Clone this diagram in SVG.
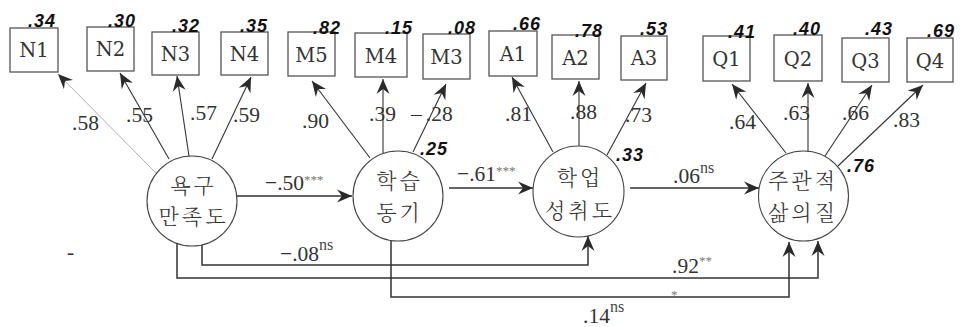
<svg xmlns="http://www.w3.org/2000/svg" width="963" height="327" viewBox="0 0 963 327">
  <defs>
    <marker id="ah" markerUnits="userSpaceOnUse" viewBox="-15 -7 16 14" refX="0" refY="0" markerWidth="16" markerHeight="14" orient="auto">
      <path d="M0,0 L-15,-6.5 L-10,0 L-15,6.5 Z" fill="#2a2a2a"/>
    </marker>
    <style>
      .box { fill: #fff; stroke: #555; stroke-width: 1.3; }
      .lat { fill: #fff; stroke: #444; stroke-width: 1.1; }
      .ind { font-size: 19.5px; fill: #333; text-anchor: middle; }
      .coef { font-size: 21.5px; fill: #333; }
      .sup { font-size: 13px; fill: #777; }
      .ns { font-size: 16px; fill: #444; }
      .r2 { font-family: 'Liberation Sans', Arial, sans-serif; font-size: 18px; font-weight: bold; font-style: italic; letter-spacing: 1px; fill: #111; }
      .kor { font-family: 'Noto Serif CJK KR', 'Noto Sans CJK KR', sans-serif; font-size: 21px; font-weight: 300; letter-spacing: 3px; fill: #333; text-anchor: middle; }
      .ln { fill: none; stroke: #333; stroke-width: 1.1; }
      .path { fill: none; stroke: #333; stroke-width: 1.5; }
      .arr { marker-end: url(#ah); }
    </style>
  </defs>

  <rect width="963" height="327" fill="#fff"/>

  <!-- connectors -->
  <g id="connectors">
    <!-- loadings: need satisfaction -->
    <line x1="156" y1="173" x2="58" y2="74" stroke="#9a9a9a" stroke-width="0.8" fill="none" class="arr"/>
    <line class="ln arr" x1="169" y1="159" x2="120" y2="73"/>
    <line class="ln arr" x1="189" y1="156" x2="177" y2="76"/>
    <line class="ln arr" x1="212" y1="159" x2="251" y2="77"/>
    <!-- loadings: learning motivation -->
    <line class="ln arr" x1="370" y1="158" x2="312" y2="81"/>
    <line class="ln arr" x1="383" y1="153" x2="383" y2="79"/>
    <line class="ln arr" x1="413" y1="152" x2="446" y2="84"/>
    <!-- loadings: academic achievement -->
    <line class="ln arr" x1="553" y1="152" x2="512" y2="77"/>
    <line class="ln arr" x1="579" y1="147" x2="579" y2="81"/>
    <line class="ln arr" x1="607" y1="155" x2="646" y2="83"/>
    <!-- loadings: subjective quality of life -->
    <line class="ln arr" x1="786" y1="153" x2="732" y2="84"/>
    <line class="ln arr" x1="808" y1="152" x2="808" y2="83"/>
    <line class="ln arr" x1="825" y1="156" x2="872" y2="85"/>
    <line class="ln arr" x1="838" y1="166" x2="923" y2="85"/>
    <!-- structural paths -->
    <line class="path arr" x1="237" y1="196" x2="352" y2="196"/>
    <line class="path arr" x1="449" y1="188" x2="533" y2="188"/>
    <line class="path arr" x1="630" y1="188" x2="759" y2="188"/>
    <polyline class="path arr" points="202,245 202,265 588,265 588,236"/>
    <polyline class="path arr" points="177,243 177,278 818,278 818,241"/>
    <polyline class="path arr" points="391,239 391,297 789,297 789,242"/>
  </g>

  <!-- observed indicators -->
  <g id="indicators" font-family="'DejaVu Serif', 'Liberation Serif', serif">
    <g id="N1"><rect class="box" x="10" y="28" width="48" height="44"/><text class="ind" x="34" y="57">N1</text></g>
    <g id="N2"><rect class="box" x="87" y="27" width="47" height="44"/><text class="ind" x="110.5" y="56">N2</text></g>
    <g id="N3"><rect class="box" x="152" y="32" width="47" height="43"/><text class="ind" x="175.5" y="61">N3</text></g>
    <g id="N4"><rect class="box" x="221" y="32" width="47" height="43"/><text class="ind" x="244.5" y="61">N4</text></g>
    <g id="M5"><rect class="box" x="288" y="32" width="47" height="44"/><text class="ind" x="311.5" y="62">M5</text></g>
    <g id="M4"><rect class="box" x="355" y="33" width="52" height="44"/><text class="ind" x="381" y="63">M4</text></g>
    <g id="M3"><rect class="box" x="423" y="34" width="47" height="45"/><text class="ind" x="446.5" y="64">M3</text></g>
    <g id="A1"><rect class="box" x="489" y="31" width="48" height="45"/><text class="ind" x="513" y="61">A1</text></g>
    <g id="A2"><rect class="box" x="552" y="35" width="47" height="44"/><text class="ind" x="575.5" y="65">A2</text></g>
    <g id="A3"><rect class="box" x="621" y="36" width="46" height="44"/><text class="ind" x="644" y="65">A3</text></g>
    <g id="Q1"><rect class="box" x="703" y="36" width="47" height="45"/><text class="ind" x="726.5" y="66">Q1</text></g>
    <g id="Q2"><rect class="box" x="774" y="35" width="48" height="46"/><text class="ind" x="798" y="66">Q2</text></g>
    <g id="Q3"><rect class="box" x="842" y="38" width="47" height="44"/><text class="ind" x="865.5" y="68">Q3</text></g>
    <g id="Q4"><rect class="box" x="907" y="38" width="46" height="44"/><text class="ind" x="930" y="68">Q4</text></g>
  </g>

  <!-- squared multiple correlations of indicators -->
  <g id="r2-indicators">
    <text class="r2" x="28" y="27">.34</text>
    <text class="r2" x="108" y="27">.30</text>
    <text class="r2" x="172" y="32">.32</text>
    <text class="r2" x="240" y="32">.35</text>
    <text class="r2" x="313" y="34">.82</text>
    <text class="r2" x="385" y="34">.15</text>
    <text class="r2" x="448" y="34">.08</text>
    <text class="r2" x="513" y="30">.66</text>
    <text class="r2" x="575" y="37">.78</text>
    <text class="r2" x="640" y="35">.53</text>
    <text class="r2" x="728" y="38">.41</text>
    <text class="r2" x="793" y="35">.40</text>
    <text class="r2" x="865" y="35">.43</text>
    <text class="r2" x="927" y="37">.69</text>
  </g>

  <!-- latent constructs -->
  <g id="need-satisfaction">
    <circle class="lat" cx="192" cy="201" r="45"/>
    <text class="kor" x="193.5" y="193">욕구</text>
    <text class="kor" x="193.5" y="224">만족도</text>
  </g>
  <g id="learning-motivation">
    <circle class="lat" cx="398" cy="196" r="45"/>
    <text class="kor" x="399.5" y="188">학습</text>
    <text class="kor" x="399.5" y="220">동기</text>
    <text class="r2" x="420" y="155">.25</text>
  </g>
  <g id="academic-achievement">
    <circle class="lat" cx="578.5" cy="191.5" r="45.5"/>
    <text class="kor" x="580" y="185">학업</text>
    <text class="kor" x="580" y="218">성취도</text>
    <text class="r2" x="616" y="161">.33</text>
  </g>
  <g id="subjective-quality-of-life">
    <circle class="lat" cx="803.5" cy="196" r="45"/>
    <text class="kor" x="803" y="188">주관적</text>
    <text class="kor" x="803" y="220">삶의질</text>
    <text class="r2" x="847" y="172">.76</text>
  </g>

  <!-- coefficient labels -->
  <g id="labels" font-family="'Liberation Serif', 'Times New Roman', serif">
    <text class="coef" x="72" y="130">.58</text>
    <text class="coef" x="126" y="122">.55</text>
    <text class="coef" x="190" y="120">.57</text>
    <text class="coef" x="233" y="122">.59</text>
    <text class="coef" x="302" y="128">.90</text>
    <text class="coef" x="369" y="121">.39</text>
    <text class="coef" x="411" y="121">–<tspan dx="4">.28</tspan></text>
    <text class="coef" x="505" y="121">.81</text>
    <text class="coef" x="570" y="119">.88</text>
    <text class="coef" x="625" y="122">.73</text>
    <text class="coef" x="729" y="129">.64</text>
    <text class="coef" x="783" y="120">.63</text>
    <text class="coef" x="842" y="120">.66</text>
    <text class="coef" x="893" y="127">.83</text>

    <text class="coef" x="265" y="190">−.50<tspan class="sup" dy="-6">***</tspan></text>
    <text class="coef" x="457" y="181">−.61<tspan class="sup" dy="-6">***</tspan></text>
    <text class="coef" x="673" y="183">.06<tspan class="ns" dy="-10">ns</tspan></text>
    <text class="coef" x="280" y="261">−.08<tspan class="ns" dy="-11">ns</tspan></text>
    <text class="coef" x="672" y="273">.92<tspan class="sup" dy="-8">**</tspan></text>
    <text class="sup" x="671" y="299">*</text>
    <text class="coef" x="583" y="323">.14<tspan class="ns" dy="-11">ns</tspan></text>
    <text class="coef" x="67" y="259">-</text>
  </g>
</svg>
